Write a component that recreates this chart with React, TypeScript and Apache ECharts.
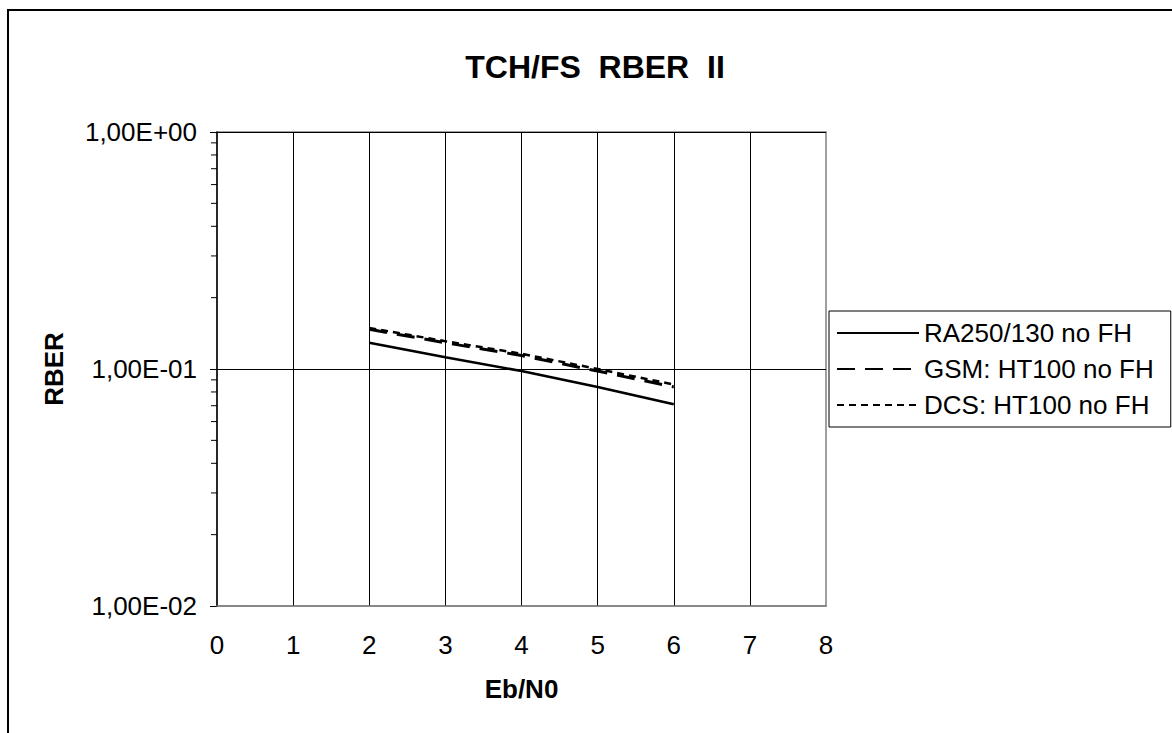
import React, { useEffect, useRef } from "react";
import * as echarts from "echarts";

const titleText = "TCH/FS  RBER  II";
const xValues = [2, 3, 4, 5, 6];
const raValues = [0.129, 0.112, 0.098, 0.084, 0.071];
const gsmValues = [0.147, 0.129, 0.114, 0.098, 0.084];
const dcsValues = [0.149, 0.131, 0.116, 0.1, 0.086];
const seriesNames = ["RA250/130 no FH", "GSM: HT100 no FH", "DCS: HT100 no FH"];
const yTickValues = [0.01, 0.1, 1];
const yTickLabels = ["1,00E-02", "1,00E-01", "1,00E+00"];
const yMinorTicks = [
  0.02, 0.03, 0.04, 0.05, 0.06, 0.07, 0.08, 0.09,
  0.2, 0.3, 0.4, 0.5, 0.6, 0.7, 0.8, 0.9,
];

const FONT = "'Liberation Sans', Arial, sans-serif";

export default function App() {
  const ref = useRef<HTMLDivElement>(null);
  useEffect(() => {
    if (!ref.current) return;
    const chart = echarts.init(ref.current, null, { renderer: "svg" });
    const pair = (ys: number[]) => xValues.map((x, i) => [x, ys[i]]);
    chart.setOption({
      animation: false,
      backgroundColor: "#fff",
      textStyle: { fontFamily: FONT, color: "#000" },
      title: {
        text: titleText,
        left: 590,
        top: 46,
        textAlign: "center",
        textStyle: { fontFamily: FONT, fontSize: 32, fontWeight: "bold", color: "#000" },
      },
      graphic: [
        {
          type: "rect",
          shape: { x: 8, y: 10, width: 1300, height: 900 },
          style: { fill: "none", stroke: "#000", lineWidth: 2 },
          silent: true,
        },
      ],
      grid: {
        left: 217,
        top: 132,
        right: 346,
        bottom: 127,
        show: true,
        borderColor: "#808080",
        borderWidth: 1.5,
        backgroundColor: "transparent",
      },
      legend: {
        orient: "vertical",
        left: 829,
        top: 311,
        data: seriesNames,
        itemWidth: 82,
        itemHeight: 14,
        itemGap: 10,
        padding: [9, 17, 9, 7],
        backgroundColor: "#fff",
        borderColor: "#000",
        borderWidth: 1,
        itemStyle: { opacity: 0 },
        textStyle: { fontFamily: FONT, fontSize: 26, color: "#000" },
      },
      xAxis: {
        type: "value",
        min: 0,
        max: 8,
        interval: 1,
        z: 3,
        name: "Eb/N0",
        nameLocation: "middle",
        nameGap: 70,
        nameTextStyle: { fontFamily: FONT, fontSize: 26, fontWeight: "bold", color: "#000" },
        axisLine: { show: true, lineStyle: { color: "#808080", width: 1.5 } },
        axisTick: { show: false },
        axisLabel: { margin: 26, fontFamily: FONT, fontSize: 26, color: "#000" },
        splitLine: {
          show: true,
          showMinLine: false,
          showMaxLine: false,
          lineStyle: { color: "#000", width: 1 },
        },
      },
      yAxis: {
        type: "log",
        logBase: 10,
        min: 0.01,
        max: 1,
        z: 2,
        name: "RBER",
        nameLocation: "middle",
        nameGap: 150,
        nameRotate: 90,
        nameTextStyle: { fontFamily: FONT, fontSize: 26, fontWeight: "bold", color: "#000" },
        axisLine: { show: true, lineStyle: { color: "#000", width: 1.5 } },
        axisTick: { show: true, length: 7, lineStyle: { color: "#000", width: 1 } },
        axisLabel: {
          margin: 20,
          fontFamily: FONT,
          fontSize: 26,
          color: "#000",
          formatter: (v: number) => {
            const i = yTickValues.findIndex(
              (t) => Math.abs(Math.log10(t) - Math.log10(v)) < 1e-6
            );
            return i >= 0 ? yTickLabels[i] : "";
          },
        },
        splitLine: {
          show: true,
          showMinLine: false,
          lineStyle: { color: "#000", width: 1 },
        },
      },
      series: [
        {
          name: seriesNames[0],
          type: "line",
          data: pair(raValues),
          symbol: "none",
          lineStyle: { color: "#000", width: 2.5, type: "solid" },
          itemStyle: { color: "#000" },
          z: 5,
        },
        {
          name: seriesNames[1],
          type: "line",
          data: pair(gsmValues),
          symbol: "none",
          lineStyle: { color: "#000", width: 3, type: [18, 10] },
          itemStyle: { color: "#000" },
          z: 5,
        },
        {
          name: seriesNames[2],
          type: "line",
          data: pair(dcsValues),
          symbol: "none",
          lineStyle: { color: "#000", width: 2.5, type: [7, 5] },
          itemStyle: { color: "#000" },
          z: 5,
        },
        {
          name: "minorTicks",
          type: "custom",
          silent: true,
          clip: false,
          data: yMinorTicks.map((v) => [0, v]),
          renderItem: (_params: any, api: any) => {
            const p = api.coord([api.value(0), api.value(1)]);
            return {
              type: "line",
              shape: { x1: p[0] - 6, y1: p[1], x2: p[0], y2: p[1] },
              style: { stroke: "#000", lineWidth: 1 },
            };
          },
          z: 4,
        },
      ],
    });
    return () => chart.dispose();
  }, []);
  return (
    <div
      ref={ref}
      style={{ position: "fixed", left: 0, top: 0, width: 1172, height: 733, background: "#fff" }}
    />
  );
}
